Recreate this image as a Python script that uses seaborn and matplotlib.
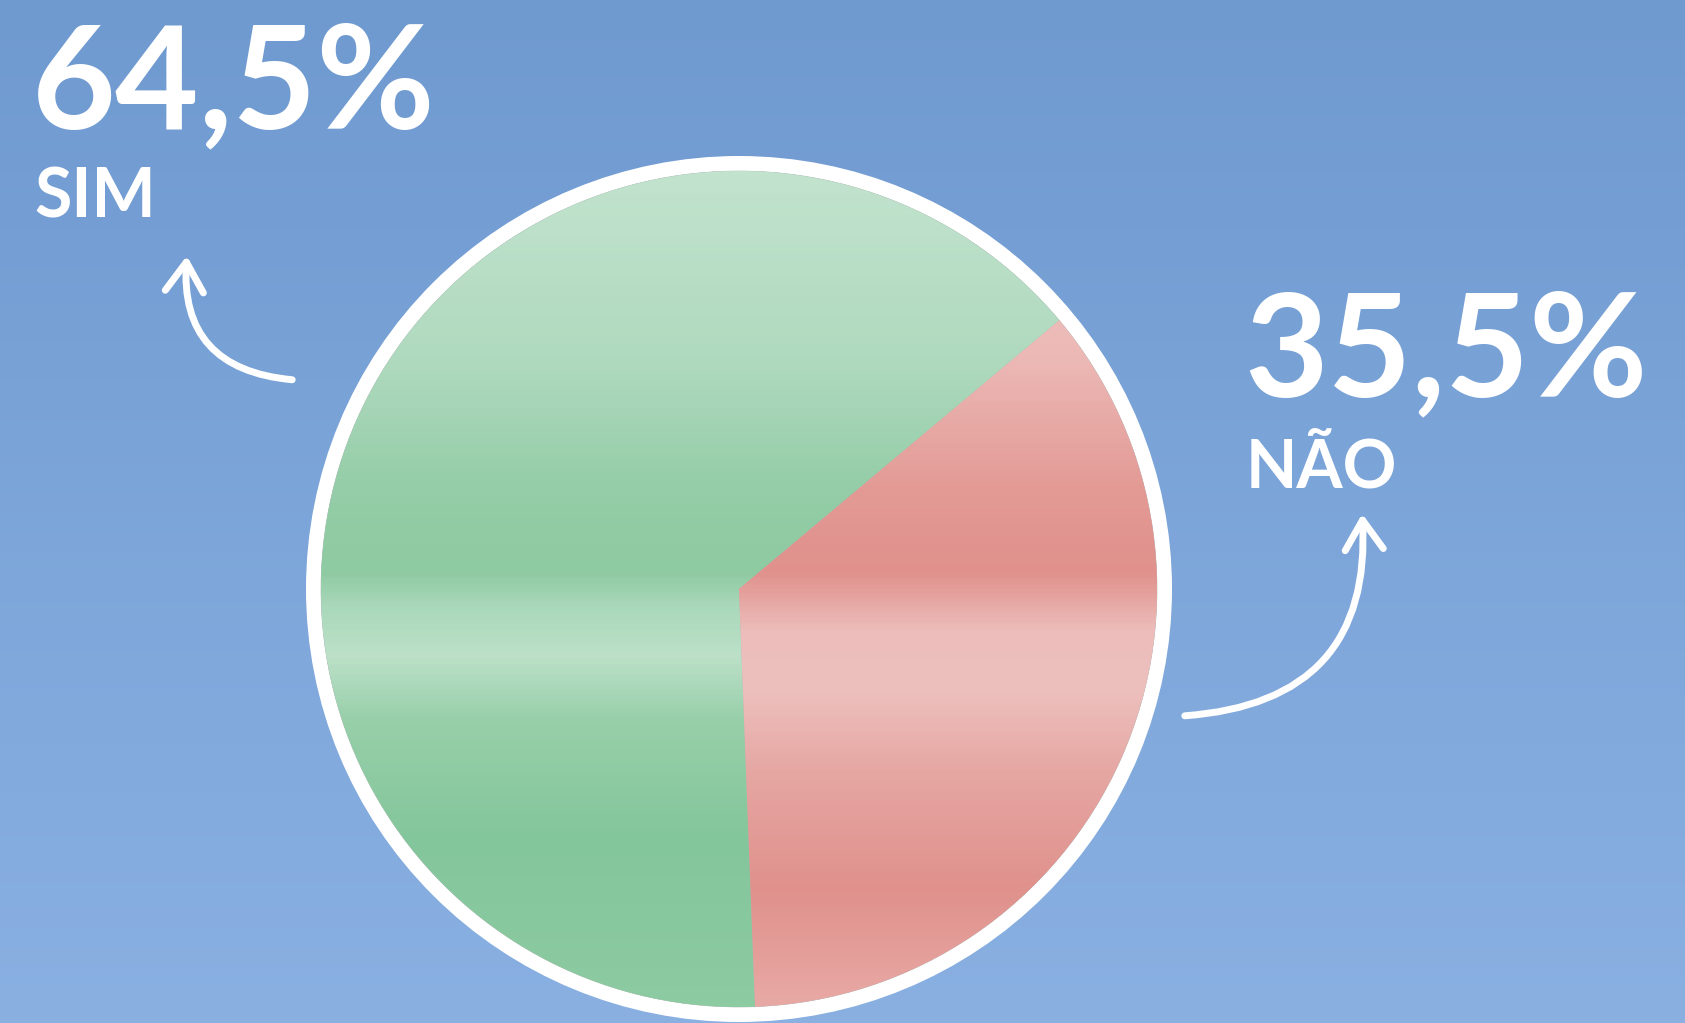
import numpy as np
import matplotlib
matplotlib.use("Agg")
import matplotlib.pyplot as plt
from matplotlib.patches import Circle, FancyArrowPatch
from matplotlib.colors import LinearSegmentedColormap
import seaborn as sns

# ---- data ----
categories = ["SIM", "NÃO"]
values = [64.5, 35.5]
value_labels = ["64,5%", "35,5%"]

sns.set_theme(style="white")
plt.rcParams["font.family"] = ["Lato", "DejaVu Sans"]

W, H = 1685, 1023
fig = plt.figure(figsize=(W / 100, H / 100), dpi=100)
ax = fig.add_axes([0, 0, 1, 1])

# background gradient
top = np.array([111, 154, 208]) / 255
bot = np.array([138, 176, 226]) / 255
t = np.linspace(0, 1, 256)[:, None]
grad = (top[None, :] * (1 - t) + bot[None, :] * t)[:, None, :]
ax.imshow(grad, extent=[0, W, 0, H], aspect="auto", zorder=0, origin="upper")

cx, cy = 739, H - 589
palette = sns.color_palette(["#9ACFAA", "#E6A6A2"])

ax.add_patch(Circle((cx, cy), 433, facecolor="white", edgecolor="none", zorder=1))
wedges, _ = ax.pie(values, colors=palette, startangle=40, counterclock=True,
                   center=(cx, cy), radius=418,
                   wedgeprops=dict(edgecolor="#a8b0b0", linewidth=0.4))
for w in wedges:
    w.set_zorder(2)

# watercolor-like vertical shading clipped to each wedge (0 = top, 1 = bottom)
shade_green = LinearSegmentedColormap.from_list(
    "g", [(0.0, "#C2E3CE"), (0.22, "#B0DABF"), (0.38, "#94CDA7"), (0.48, "#8ECAA2"),
          (0.52, "#A9D8BA"), (0.58, "#BCE0C8"), (0.66, "#97CFA9"), (0.80, "#84C69C"),
          (1.0, "#8DCBA2")])
shade_red = LinearSegmentedColormap.from_list(
    "r", [(0.0, "#F0C6C4"), (0.22, "#ECB9B6"), (0.38, "#E39A95"), (0.48, "#E0918C"),
          (0.55, "#ECBDBA"), (0.62, "#EDC0BE"), (0.72, "#E6A7A3"), (0.86, "#E0918C"),
          (1.0, "#E8A9A5")])
ys = np.linspace(0, 1, 400)[:, None] * np.ones((1, 4))
y0, y1 = cy - 418, cy + 418
for w, cmap in zip(wedges, [shade_green, shade_red]):
    im = ax.imshow(ys, cmap=cmap, vmin=0, vmax=1, extent=[cx - 418, cx + 418, y0, y1],
                   aspect="auto", zorder=2.5, origin="upper")
    im.set_clip_path(w)

ax.set_xlim(0, W)
ax.set_ylim(0, H)
ax.set_aspect("equal")
ax.axis("off")

# labels
ax.text(32, H - 128, value_labels[0], color="white", fontsize=104, fontweight="bold",
        ha="left", va="baseline", zorder=3)
ax.text(34, H - 218, categories[0], color="white", fontsize=49, fontweight="bold",
        ha="left", va="baseline", zorder=3)
ax.text(1244, H - 396, value_labels[1], color="white", fontsize=104, fontweight="bold",
        ha="left", va="baseline", zorder=3)
ax.text(1246, H - 487, categories[1], color="white", fontsize=48, fontweight="bold",
        ha="left", va="baseline", zorder=3)

# arrows
a1 = FancyArrowPatch((295, H - 380), (187, H - 253), connectionstyle="arc3,rad=-0.5",
                     arrowstyle="->,head_length=0.85,head_width=0.55", mutation_scale=25,
                     color="white", lw=5, zorder=3)
a2 = FancyArrowPatch((1182, H - 716), (1362, H - 511), connectionstyle="arc3,rad=0.5",
                     arrowstyle="->,head_length=0.85,head_width=0.55", mutation_scale=25,
                     color="white", lw=5, zorder=3)
ax.add_patch(a1)
ax.add_patch(a2)

fig.savefig("out.png", dpi=100)
